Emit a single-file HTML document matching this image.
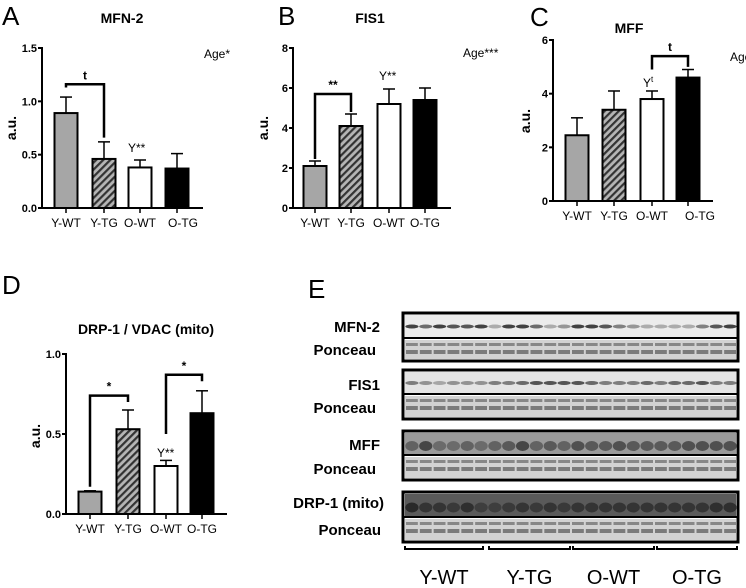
<!DOCTYPE html>
<html><head><meta charset="utf-8"><style>
body{margin:0;background:#fff}
svg{display:block;font-family:"Liberation Sans",Arial,sans-serif}
.tk{font-size:11px;font-weight:bold;text-anchor:end}
.cat{font-size:12px;text-anchor:middle}
.ttl{font-size:14px;font-weight:bold;text-anchor:middle}
.pl{font-size:26px}
.bl{font-size:15px;font-weight:bold;text-anchor:end}
</style></head><body>
<svg id="fig" width="746" height="588" viewBox="0 0 746 588">
<defs>
<pattern id="hatch" width="5" height="5" patternUnits="userSpaceOnUse" patternTransform="rotate(45)">
<rect width="5" height="5" fill="#b5b5b5"/><rect width="2.2" height="5" fill="#333"/>
</pattern>
</defs>
<g id="charts"></g>
<g id="blots"></g>
</svg>
<script>
const categories=["Y-WT","Y-TG","O-WT","O-TG"];
const mfn2Values=[0.89,0.46,0.38,0.37];
const mfn2Errors=[0.15,0.16,0.07,0.14];
const mfn2Ticks=[0,0.5,1.0,1.5];
const fis1Values=[2.1,4.1,5.2,5.4];
const fis1Errors=[0.25,0.6,0.75,0.6];
const fis1Ticks=[0,2,4,6,8];
const mffValues=[2.45,3.4,3.8,4.6];
const mffErrors=[0.65,0.7,0.3,0.3];
const mffTicks=[0,2,4,6];
const drpValues=[0.14,0.53,0.30,0.63];
const drpErrors=[0.005,0.12,0.035,0.14];
const drpTicks=[0,0.5,1.0];
const fills=["#a6a6a6","url(#hatch)","#ffffff","#000000"];
const NS="http://www.w3.org/2000/svg";
function mk(tag,attrs,parent,txt){const e=document.createElementNS(NS,tag);for(const k in attrs)e.setAttribute(k,attrs[k]);if(txt!==undefined)e.textContent=txt;parent.appendChild(e);return e;}

function panel(cfg){
  const root=document.getElementById('charts');
  const g=mk('g',{},root);
  
  
  const y=v=>cfg.y0-(v-0)/(cfg.max)*(cfg.y0-cfg.yTop);
  const x=i=>cfg.centers[i];
  const lt=mk('text',{x:cfg.letter[0],y:cfg.letter[1],class:'pl'},g,cfg.letterText);
  
  const t=mk('text',{x:cfg.title[0],y:cfg.title[1],class:'ttl'},g,cfg.titleText);
  
  cfg.values.forEach((v,i)=>{
    const top=y(v+cfg.errors[i]);
    const el=mk('line',{x1:x(i),x2:x(i),y1:y(v),y2:top,stroke:'#000','stroke-width':1.5},g);
    
    const cap=mk('line',{x1:x(i)-6,x2:x(i)+6,y1:top,y2:top,stroke:'#000','stroke-width':1.5},g);
    
    const b=mk('rect',{x:x(i)-11.5,y:y(v),width:23,height:cfg.y0-y(v),fill:fills[i],stroke:'#000','stroke-width':2},g);
    
  });
  const ya=mk('line',{x1:cfg.ax,x2:cfg.ax,y1:cfg.yTop-1,y2:cfg.y0,stroke:'#000','stroke-width':2},g);
  
  const xa=mk('line',{x1:cfg.ax-1,x2:cfg.axEnd,y1:cfg.y0,y2:cfg.y0,stroke:'#000','stroke-width':2},g);
  
  cfg.ticks.forEach(v=>{
    mk('line',{x1:cfg.ax-4,x2:cfg.ax,y1:y(v),y2:y(v),stroke:'#000','stroke-width':2},g);
    const tl=mk('text',{x:cfg.ax-5,y:y(v)+4,class:'tk'},g,cfg.fmt(v));
    
  });
  categories.forEach((c,i)=>{
    mk('line',{x1:x(i),x2:x(i),y1:cfg.y0,y2:cfg.y0+5,stroke:'#000','stroke-width':1.5},g);
    const cl=mk('text',{x:x(i)+(cfg.catShift?cfg.catShift[i]:0),y:cfg.y0+19,class:'cat'},g,c);
    
  });
  const yl=mk('text',{x:0,y:0,class:'ttl',transform:`translate(${cfg.ylab[0]},${cfg.ylab[1]}) rotate(-90)`},g,'a.u.');
  
  (cfg.brackets||[]).forEach(br=>{
    const p=mk('polyline',{points:`${x(br.a)},${y(br.la)} ${x(br.a)},${y(br.top)} ${x(br.b)},${y(br.top)} ${x(br.b)},${y(br.lb)}`,fill:'none',stroke:'#000','stroke-width':2.5},g);
    
    const s=mk('text',{x:(x(br.a)+x(br.b))/2,y:y(br.top)-5,'font-size':'12px','font-weight':'bold','text-anchor':'middle'},g,br.label);
    
  });
  (cfg.notes||[]).forEach(n=>{
    const s=mk('text',{x:n[0],y:n[1],'font-size':'12px'},g);
    s.innerHTML=n[2];
    
  });
}
const f1=v=>v.toFixed(1), f0=v=>String(v);
panel({name:'panel-a-mfn2',values:mfn2Values,errors:mfn2Errors,ticks:mfn2Ticks,max:1.5,fmt:f1,ax:42,axEnd:203,y0:208,yTop:48,centers:[66,104,140,177],
 letter:[2,25],letterText:'A',title:[122,23],titleText:'MFN-2',ylab:[16,128],catShift:[0,0,0,6],
 brackets:[{a:0,b:1,top:1.16,la:1.13,lb:0.66,label:'t'}],
 notes:[[204,58,'Age*'],[128,152,'Y**']]});
panel({name:'panel-b-fis1',values:fis1Values,errors:fis1Errors,ticks:fis1Ticks,max:8,fmt:f0,ax:293,axEnd:451,y0:208,yTop:48,centers:[315,351,389,425],
 letter:[278,25],letterText:'B',title:[370,23],titleText:'FIS1',ylab:[268,128],
 brackets:[{a:0,b:1,top:5.7,la:2.45,lb:4.8,label:'**'}],
 notes:[[463,57,'Age***'],[379,80,'Y**']]});
panel({name:'panel-c-mff',values:mffValues,errors:mffErrors,ticks:mffTicks,max:6,fmt:f0,ax:553,axEnd:713,y0:201,yTop:40,centers:[577,614,652,688],
 letter:[530,26],letterText:'C',title:[629,33],titleText:'MFF',ylab:[530,121],catShift:[0,0,0,12],
 brackets:[{a:2,b:3,top:5.4,la:4.9,lb:5.0,label:'t'}],
 notes:[[730,61,'Age*'],[643,87,'Y<tspan font-size="8" dy="-5">t</tspan>']]});
panel({name:'panel-d-drp1',values:drpValues,errors:drpErrors,ticks:drpTicks,max:1.0,fmt:f1,ax:66,axEnd:227,y0:514,yTop:354,centers:[90,128,166,202],
 letter:[2,294],letterText:'D',title:[146,334],titleText:'DRP-1 / VDAC (mito)',ylab:[40,436],
 brackets:[{a:0,b:1,top:0.74,la:0.17,lb:0.70,label:'*'},{a:2,b:3,top:0.87,la:0.50,lb:0.83,label:'*'}],
 notes:[[157,457,'Y**']]});

const blotNames=["MFN-2","FIS1","MFF","DRP-1 (mito)"];
const mfnBands=[.8,.6,.8,.7,.7,.8,.3,.8,.8,.6,.3,.4,.8,.8,.7,.5,.4,.3,.3,.3,.3,.5,.7,.8];
const fisBands=[.5,.4,.3,.4,.4,.4,.5,.5,.6,.7,.7,.7,.7,.6,.5,.5,.5,.6,.5,.6,.6,.7,.5,.5];
const mffBands=[.6,.9,.5,.5,.6,.5,.6,.7,.9,.6,.7,.6,.8,.7,.7,.8,.7,.7,.7,.7,.8,.8,.8,.8];
const drpBands=[.9,.7,.7,.6,.8,.5,.5,.6,.7,.6,.7,.6,.7,.7,.7,.7,.7,.7,.7,.7,.7,.7,.8,.8];
const bandSets=[mfnBands,fisBands,mffBands,drpBands];
(function(){
  const E=document.getElementById('blots');
  
  const L=mk('text',{x:308,y:298,class:'pl'},E,'E');
  
  const boxes=[[313,338,361],[370,394,419],[431,455,480],[492,517,542]];
  const lab=[[327,350],[385,408],[445,469],[503,530]];
  const bg=['#ececec','#e4e4e4','#9a9a9a','#5a5a5a'];
  const x0=405,x1=737,n=24,lw=(x1-x0)/n;
  boxes.forEach((b,k)=>{
    const g=mk('g',{},E);
    
    
    mk('rect',{x:403,y:b[0],width:335,height:b[2]-b[0],fill:'#fff',stroke:'#000','stroke-width':3},g);
    mk('rect',{x:405,y:b[0]+2,width:331,height:b[1]-b[0]-3,fill:bg[k]},g);
    mk('rect',{x:405,y:b[1]+2,width:331,height:b[2]-b[1]-4,fill:'#d2d2d2'},g);
    mk('line',{x1:403,x2:738,y1:b[1],y2:b[1],stroke:'#000','stroke-width':2},g);
    bandSets[k].forEach((v,i)=>{
      const cx=x0+lw*(i+0.5),cy=(b[0]+b[1])/2+1;
      const band=mk('ellipse',{cx:cx,cy:cy+(k>=2?2:0),rx:lw/2-0.3,ry:k>=2?5:2,fill:'#000',opacity:k>=2?v*0.6:v*0.9},g);
      
      mk('rect',{x:cx-lw/2+1,y:b[1]+5,width:lw-2,height:3,fill:'#666',opacity:.7},g);
      mk('rect',{x:cx-lw/2+1,y:b[1]+12,width:lw-2,height:4,fill:'#555',opacity:.7},g);
    });
    const t1=mk('text',{x:k==3?384:380,y:lab[k][0]+5,class:'bl'},g,blotNames[k]);
    
    const t2=mk('text',{x:k==3?381:376,y:lab[k][1]+5,class:'bl'},g,'Ponceau');
    
  });
  const segs=[[405,483],[489,570],[573,654],[657,737]];
  segs.forEach((s,i)=>{
    const p=mk('polyline',{points:`${s[0]},546 ${s[0]},549 ${s[1]},549 ${s[1]},546`,fill:'none',stroke:'#000','stroke-width':2},E);
    
    const t=mk('text',{x:(s[0]+s[1])/2,y:584,'font-size':'20px','text-anchor':'middle'},E,categories[i]);
    
  });
})();
</script>
</body></html>
